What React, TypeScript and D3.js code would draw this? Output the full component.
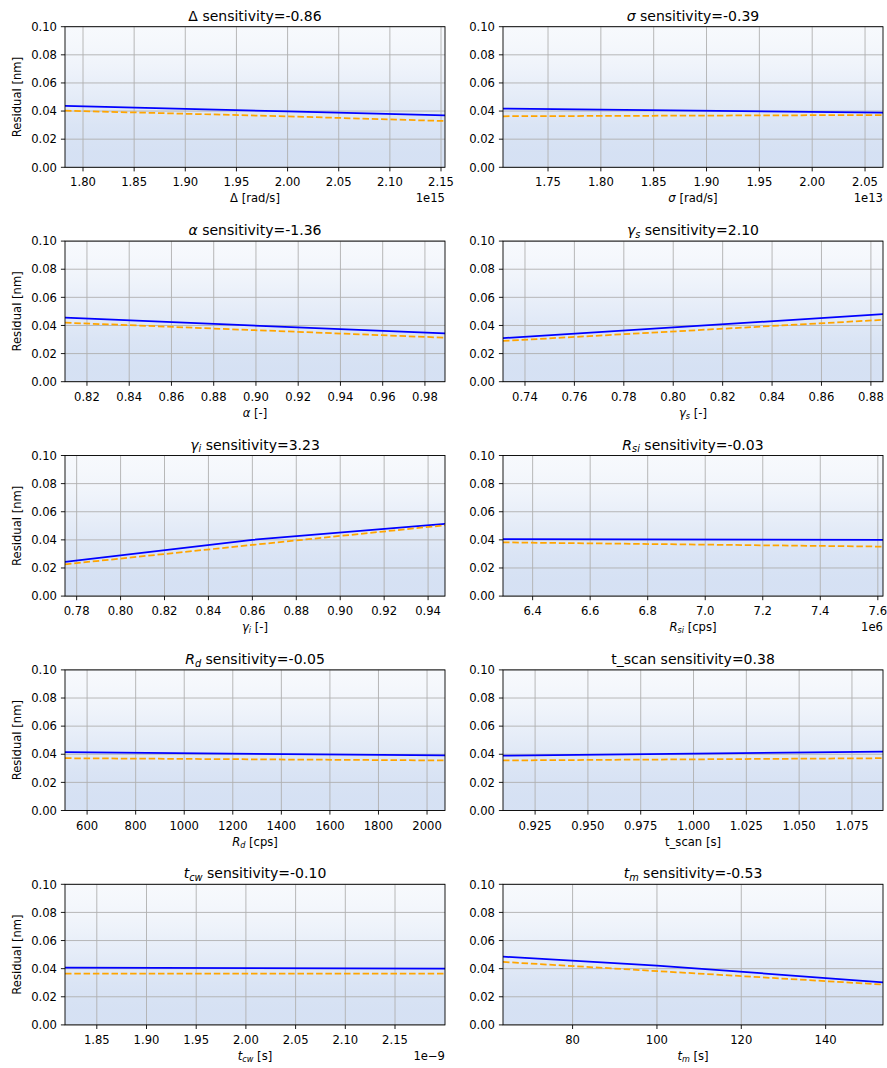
import React from "react";
import * as d3 from "d3";

// ---------- data ----------
const symbols = [
  { base: "Δ", sub: "", italic: false },
  { base: "σ", sub: "", italic: true },
  { base: "α", sub: "", italic: true },
  { base: "γ", sub: "s", italic: true },
  { base: "γ", sub: "i", italic: true },
  { base: "R", sub: "si", italic: true },
  { base: "R", sub: "d", italic: true },
  { base: "t_scan", sub: "", italic: false },
  { base: "t", sub: "cw", italic: true },
  { base: "t", sub: "m", italic: true },
];
const sensitivities = [-0.86, -0.39, -1.36, 2.1, 3.23, -0.03, -0.05, 0.38, -0.1, -0.53];
const units = ["[rad/s]", "[rad/s]", "[-]", "[-]", "[-]", "[cps]", "[cps]", "[s]", "[s]", "[s]"];
const offsetTexts = ["1e15", "1e13", "", "", "", "1e6", "", "", "1e\u22129", ""];
const xDomains = [
  [1.7824, 2.1539],
  [1.7074, 2.067],
  [0.8096, 0.9895],
  [0.7311, 0.8849],
  [0.7747, 0.9477],
  [6.297, 7.618],
  [509, 2074],
  [0.9098, 1.0897],
  [1.818, 2.2003],
  [63.5, 153.6],
];
const xTicks = [
  [1.8, 1.85, 1.9, 1.95, 2.0, 2.05, 2.1, 2.15],
  [1.75, 1.8, 1.85, 1.9, 1.95, 2.0, 2.05],
  [0.82, 0.84, 0.86, 0.88, 0.9, 0.92, 0.94, 0.96, 0.98],
  [0.74, 0.76, 0.78, 0.8, 0.82, 0.84, 0.86, 0.88],
  [0.78, 0.8, 0.82, 0.84, 0.86, 0.88, 0.9, 0.92, 0.94],
  [6.4, 6.6, 6.8, 7.0, 7.2, 7.4, 7.6],
  [600, 800, 1000, 1200, 1400, 1600, 1800, 2000],
  [0.925, 0.95, 0.975, 1.0, 1.025, 1.05, 1.075],
  [1.85, 1.9, 1.95, 2.0, 2.05, 2.1, 2.15],
  [80, 100, 120, 140],
];
const tickDecimals = [2, 2, 2, 2, 2, 1, 0, 3, 2, 0];
const yTicks = [0, 0.02, 0.04, 0.06, 0.08, 0.1];
const yDomain = [0, 0.1];

// mean residual trend (solid blue) and median trend (dashed orange)
const blueLines: number[][][] = [
  [[1.7824, 0.0436], [2.0, 0.0397], [2.1539, 0.037]],
  [[1.7074, 0.0417], [2.067, 0.0388]],
  [[0.8096, 0.0455], [0.9895, 0.0343]],
  [[0.7311, 0.031], [0.8849, 0.048]],
  [[0.7747, 0.0244], [0.86, 0.04], [0.9477, 0.0513]],
  [[6.297, 0.0405], [7.618, 0.04]],
  [[509, 0.0415], [2074, 0.0392]],
  [[0.9098, 0.039], [1.0897, 0.0418]],
  [[1.818, 0.0407], [2.2003, 0.04]],
  [[63.5, 0.0485], [100, 0.0422], [153.6, 0.0303]],
];
const orangeLines: number[][][] = [
  [[1.7824, 0.0403], [2.0, 0.0362], [2.1539, 0.0329]],
  [[1.7074, 0.0363], [2.067, 0.0372]],
  [[0.8096, 0.042], [0.9895, 0.0313]],
  [[0.7311, 0.029], [0.8849, 0.044]],
  [[0.7747, 0.0226], [0.86, 0.0364], [0.9477, 0.0504]],
  [[6.297, 0.0382], [7.618, 0.0352]],
  [[509, 0.0372], [2074, 0.0356]],
  [[0.9098, 0.0356], [1.0897, 0.0372]],
  [[1.818, 0.0365], [2.2003, 0.0365]],
  [[63.5, 0.0448], [153.6, 0.0287]],
];
// density of the faint residual scatter cloud vs residual value (opacity)
const scatterDensityY = [0, 0.01, 0.02, 0.03, 0.04, 0.05, 0.06, 0.07, 0.08, 0.09, 0.1];
const scatterDensityA = [0.21, 0.21, 0.2, 0.185, 0.16, 0.135, 0.11, 0.085, 0.065, 0.05, 0.04];

// ---------- layout ----------
const W = 887;
const H = 1068;
const colLeft = [65, 503];
const axW = 380;
const rowTop0 = 26.7;
const rowStep = 214.4;
const axH = 140.6;
const FONT = "DejaVu Sans, sans-serif";
const tickFs = 11.6;
const titleFs = 14;
const tickLen = 4.1;

function symSpans(s: any, fs: number, rest: string) {
  const subFs = fs * 0.7;
  const shift = fs * 0.2;
  const out: any[] = [];
  out.push(
    <tspan key="b" fontStyle={s.italic ? "italic" : "normal"}>
      {s.base}
    </tspan>
  );
  if (s.sub) {
    out.push(
      <tspan key="s" fontStyle="italic" fontSize={subFs} dy={shift}>
        {s.sub}
      </tspan>
    );
    out.push(
      <tspan key="r" dy={-shift}>
        {rest}
      </tspan>
    );
  } else {
    out.push(<tspan key="r">{rest}</tspan>);
  }
  return out;
}

function Panel({ i }: { i: number }) {
  const col = i % 2;
  const row = Math.floor(i / 2);
  const left = colLeft[col];
  const top = rowTop0 + row * rowStep;
  const x = d3.scaleLinear().domain(xDomains[i]).range([left, left + axW]);
  const y = d3.scaleLinear().domain(yDomain).range([top + axH, top]);
  const line = d3
    .line<number[]>()
    .x((d) => x(d[0]))
    .y((d) => y(d[1]));
  const clipId = `clip${i}`;
  const gradId = `grad${i}`;
  const bottom = top + axH;
  return (
    <g>
      <defs>
        <clipPath id={clipId}>
          <rect x={left} y={top} width={axW} height={axH} />
        </clipPath>
        <linearGradient id={gradId} gradientUnits="userSpaceOnUse" x1={0} x2={0} y1={y(0)} y2={y(0.1)}>
          {scatterDensityY.map((v, k) => (
            <stop key={k} offset={(v - yDomain[0]) / (yDomain[1] - yDomain[0])} stopColor="#3a70c8" stopOpacity={scatterDensityA[k]} />
          ))}
        </linearGradient>
      </defs>
      <rect x={left} y={top} width={axW} height={axH} fill="white" />
      <rect x={left} y={top} width={axW} height={axH} fill={`url(#${gradId})`} />
      {/* grid */}
      <g stroke="#b0b0b0" strokeWidth={0.9}>
        {xTicks[i].map((t, k) => (
          <line key={"gx" + k} x1={x(t)} x2={x(t)} y1={top} y2={bottom} />
        ))}
        {yTicks.map((t, k) => (
          <line key={"gy" + k} x1={left} x2={left + axW} y1={y(t)} y2={y(t)} />
        ))}
      </g>
      <g clipPath={`url(#${clipId})`}>
        <path d={line(blueLines[i]) || ""} fill="none" stroke="#0000ff" strokeWidth={1.75} />
        <path d={line(orangeLines[i]) || ""} fill="none" stroke="#ffa500" strokeWidth={1.75} strokeDasharray="6.5 2.8" />
      </g>
      <rect x={left} y={top} width={axW} height={axH} fill="none" stroke="black" strokeWidth={0.9} />
      {/* ticks */}
      <g stroke="black" strokeWidth={0.9}>
        {xTicks[i].map((t, k) => (
          <line key={"tx" + k} x1={x(t)} x2={x(t)} y1={bottom} y2={bottom + tickLen} />
        ))}
        {yTicks.map((t, k) => (
          <line key={"ty" + k} x1={left} x2={left - tickLen} y1={y(t)} y2={y(t)} />
        ))}
      </g>
      <g fontFamily={FONT} fontSize={tickFs} fill="black">
        {xTicks[i].map((t, k) => (
          <text key={"lx" + k} x={x(t)} y={bottom + 19} textAnchor="middle">
            {t.toFixed(tickDecimals[i])}
          </text>
        ))}
        {yTicks.map((t, k) => (
          <text key={"ly" + k} x={left - 8} y={y(t) + 4.2} textAnchor="end">
            {t.toFixed(2)}
          </text>
        ))}
        <text x={left + axW / 2} y={bottom + 35} textAnchor="middle">
          {symSpans(symbols[i], tickFs, " " + units[i])}
        </text>
        {offsetTexts[i] ? (
          <text x={left + axW} y={bottom + 35} textAnchor="end">
            {offsetTexts[i]}
          </text>
        ) : null}
        {col === 0 ? (
          <text transform={`translate(21,${top + axH / 2}) rotate(-90)`} textAnchor="middle">
            Residual [nm]
          </text>
        ) : null}
      </g>
      <text x={left + axW / 2} y={top - 6} textAnchor="middle" fontFamily={FONT} fontSize={titleFs}>
        {symSpans(symbols[i], titleFs, " sensitivity=" + sensitivities[i].toFixed(2))}
      </text>
    </g>
  );
}

export default function App() {
  return (
    <svg width={W} height={H} style={{ position: "absolute", left: 0, top: 0, background: "white" }}>
      <rect width={W} height={H} fill="white" />
      {symbols.map((_, i) => (
        <Panel key={i} i={i} />
      ))}
    </svg>
  );
}
